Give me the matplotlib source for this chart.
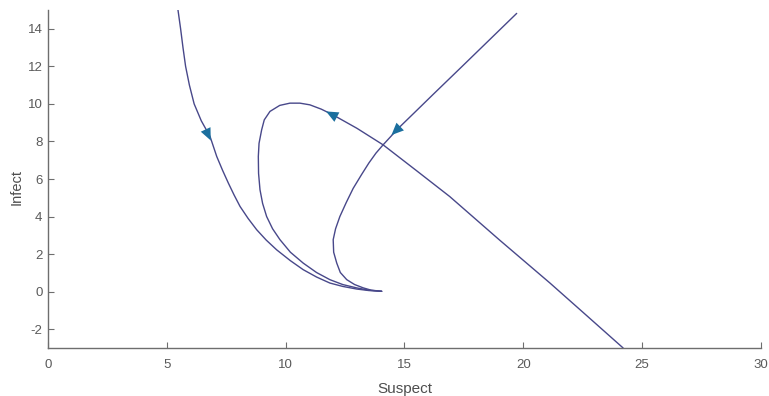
"""
Phase portrait of Suspect vs Infect trajectories (MATLAB-style axes)
"""

import matplotlib.pyplot as plt
from matplotlib.patches import FancyArrowPatch

plt.rcParams["font.family"] = ["Liberation Sans", "DejaVu Sans"]
plt.rcParams["axes.unicode_minus"] = False

# Trajectory 1: enters from the top left, falls to the equilibrium
s_left = [5.47, 5.58, 5.68, 5.79, 5.95, 6.15, 6.45, 6.82, 7.1, 7.35, 7.59, 7.83, 8.08,
          8.42, 8.78, 9.18, 9.62, 10.2, 10.74, 11.3, 11.86, 12.4, 12.99, 13.5, 14.04]
i_left = [15.0, 14.0, 13.0, 12.0, 11.0, 10.0, 9.1, 8.26, 7.2, 6.45, 5.78, 5.15, 4.54,
          3.9, 3.3, 2.75, 2.23, 1.65, 1.17, 0.78, 0.46, 0.28, 0.14, 0.06, 0.02]

# Trajectory 2: comes up from the bottom right, loops over the top and settles
s_loop = [24.2, 22.6, 21.12, 19.0, 16.9, 15.5, 14.1, 13.0, 12.0, 11.5, 11.02, 10.6,
          10.18, 9.75, 9.34, 9.1, 8.99, 8.88, 8.85, 8.86, 8.92, 9.03, 9.2, 9.45,
          9.76, 10.2, 10.74, 11.3, 11.86, 12.4, 12.99, 13.5, 14.04]
i_loop = [-3.0, -1.2, 0.46, 2.75, 5.07, 6.45, 7.82, 8.7, 9.41, 9.72, 9.95, 10.04,
          10.04, 9.92, 9.6, 9.15, 8.62, 7.9, 7.2, 6.3, 5.43, 4.7, 4.0, 3.35,
          2.77, 2.1, 1.52, 1.02, 0.64, 0.38, 0.2, 0.08, 0.02]

# Trajectory 3: enters from the top right, bends round to the equilibrium
s_right = [19.72, 18.5, 17.41, 16.2, 15.39, 14.74, 14.1, 13.8, 13.5, 13.2, 12.84,
           12.55, 12.28, 12.1, 12.0, 12.02, 12.15, 12.3, 12.57, 12.9, 13.27, 13.6, 14.04]
i_right = [14.82, 13.32, 11.98, 10.5, 9.5, 8.7, 7.82, 7.38, 6.85, 6.25, 5.5,
           4.75, 4.0, 3.35, 2.77, 2.1, 1.52, 1.02, 0.64, 0.38, 0.2, 0.08, 0.02]

# Direction arrows: (tail, tip) along each trajectory
arrow_tails = [(6.5, 9.0), (12.6, 9.0), (15.2, 9.26)]
arrow_tips = [(6.85, 8.05), (11.7, 9.6), (14.45, 8.34)]

line_color = "#48488a"
arrow_color = "#1b6f9e"
axis_color = "#6e6e6e"
text_color = "#4e4e4e"

fig = plt.figure(figsize=(7.69, 3.96), dpi=100)
ax = fig.add_axes([0.0624, 0.1212, 0.9272, 0.8535])

for s, i in [(s_left, i_left), (s_loop, i_loop), (s_right, i_right)]:
    ax.plot(s, i, color=line_color, linewidth=1.0,
            solid_joinstyle="round", solid_capstyle="round")

for tail, tip in zip(arrow_tails, arrow_tips):
    ax.add_patch(FancyArrowPatch(
        tail, tip, arrowstyle="-|>,head_length=0.8,head_width=0.35",
        mutation_scale=11, color=arrow_color, linewidth=0,
        shrinkA=0, shrinkB=0, zorder=3
    ))

ax.set_xlim(0, 30)
ax.set_ylim(-3, 15)
ax.set_xticks(range(0, 31, 5))
ax.set_yticks(range(-2, 15, 2))

# Box off, inward ticks
ax.spines["top"].set_visible(False)
ax.spines["right"].set_visible(False)
for side in ("left", "bottom"):
    ax.spines[side].set_color(axis_color)
    ax.spines[side].set_linewidth(1.0)
ax.tick_params(direction="in", length=4, width=0.8, color=axis_color,
               labelcolor="#5a5a5a", labelsize=9.5)
ax.tick_params(axis="x", pad=8)
ax.tick_params(axis="y", pad=4)

ax.set_xlabel("Suspect", fontsize=11, color=text_color)
ax.set_ylabel("Infect", fontsize=10.5, color=text_color)
ax.xaxis.set_label_coords(0.5, -0.10)
ax.yaxis.set_label_coords(-0.034, 0.476)

plt.savefig("out.png", dpi=100)
plt.close()
